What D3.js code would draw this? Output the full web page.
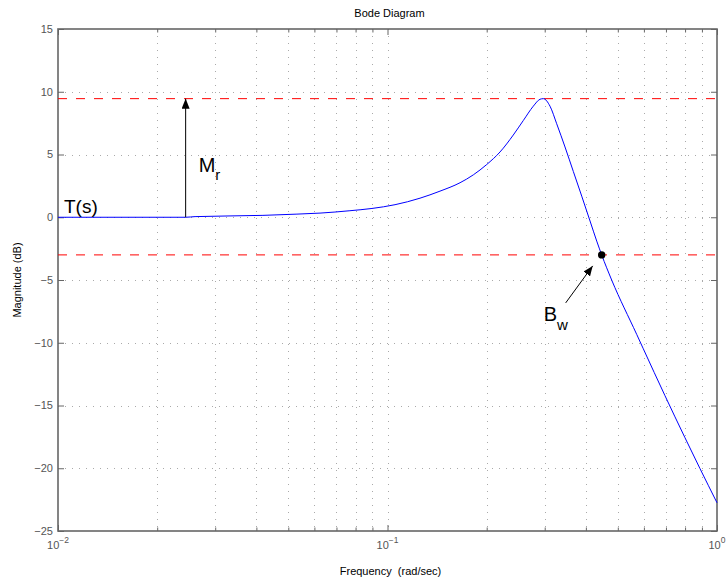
<!DOCTYPE html>
<html>
<head>
<meta charset="utf-8">
<script src="https://cdn.jsdelivr.net/npm/d3@7"></script>
<style>
  html, body { margin: 0; padding: 0; background: #fff; }
  svg { display: block; font-family: "Liberation Sans", Arial, Helvetica, sans-serif; }
</style>
</head>
<body>
<svg id="chart" width="726" height="583"></svg>
<script>
// ---- data ----
const freq = [0.01, 0.0244, 0.02606, 0.04188, 0.0531, 0.0624, 0.0769, 0.0897, 0.1054, 0.1255, 0.1443, 0.166, 0.1822, 0.2, 0.2195, 0.2408, 0.2582, 0.277, 0.2903, 0.2971, 0.3113, 0.3262, 0.3457, 0.3664, 0.3886, 0.4118, 0.4315, 0.4467, 0.479, 0.5705, 0.5975, 0.6953, 0.7996, 0.888, 1.0];
const magDb = [0, 0, 0.05, 0.15, 0.25, 0.33, 0.52, 0.7, 1.0, 1.52, 2.08, 2.75, 3.38, 4.2, 5.2, 6.55, 7.7, 8.85, 9.4, 9.45, 8.85, 7.45, 5.6, 3.65, 1.68, -0.3, -1.9, -3.0, -5.0, -9.33, -10.48, -14.22, -17.57, -20.03, -22.75];
const yTicks = [-25, -20, -15, -10, -5, 0, 5, 10, 15];
const xTickExps = [-2, -1, 0];
const resonancePeakDb = 9.45;     // M_r level
const bandwidthDb = -3;           // -3 dB level
const bandwidthFreq = 0.4467;     // B_w point
const mrArrowFreq = 0.0244;       // where the M_r arrow stands

// ---- layout ----
const L = 58, R = 717, T = 29, B = 531;
const svg = d3.select("#chart");
const x = d3.scaleLog().domain([0.01, 1]).range([L, R]);
const y = d3.scaleLinear().domain([-25, 15]).range([B, T]);
const axisColor = "#666";

// minor frequency values
const minorFreq = [];
for (let e = -2; e < 0; e++) for (let m = 2; m <= 9; m++) minorFreq.push(m * Math.pow(10, e));
const majorFreq = xTickExps.map(e => Math.pow(10, e));

// ---- grid ----
const grid = svg.append("g").attr("stroke", "#aaa").attr("stroke-width", 1).attr("stroke-dasharray", "1,6");
grid.selectAll("line.vx").data(majorFreq.concat(minorFreq).filter(f => f > 0.01 && f < 1)).join("line")
  .attr("x1", d => Math.round(x(d)) + 0.5).attr("x2", d => Math.round(x(d)) + 0.5)
  .attr("y1", T).attr("y2", B);
grid.selectAll("line.hy").data(yTicks.filter(v => v > -25 && v < 15)).join("line")
  .attr("y1", d => Math.round(y(d)) + 0.5).attr("y2", d => Math.round(y(d)) + 0.5)
  .attr("x1", L).attr("x2", R);

// ---- axes (inward ticks, box) ----
const tickFmtNone = () => "";
svg.append("g").attr("transform", `translate(0,${B})`)
  .call(d3.axisBottom(x).tickValues(majorFreq).tickSizeInner(-6).tickSizeOuter(0).tickFormat(tickFmtNone));
svg.append("g").attr("transform", `translate(0,${B})`)
  .call(d3.axisBottom(x).tickValues(minorFreq).tickSizeInner(-3.5).tickSizeOuter(0).tickFormat(tickFmtNone));
svg.append("g").attr("transform", `translate(0,${T})`)
  .call(d3.axisTop(x).tickValues(majorFreq).tickSizeInner(-6).tickSizeOuter(0).tickFormat(tickFmtNone));
svg.append("g").attr("transform", `translate(0,${T})`)
  .call(d3.axisTop(x).tickValues(minorFreq).tickSizeInner(-3.5).tickSizeOuter(0).tickFormat(tickFmtNone));
svg.append("g").attr("transform", `translate(${L},0)`)
  .call(d3.axisLeft(y).tickValues(yTicks).tickSizeInner(-6).tickSizeOuter(0).tickFormat(tickFmtNone));
svg.append("g").attr("transform", `translate(${R},0)`)
  .call(d3.axisRight(y).tickValues(yTicks).tickSizeInner(-6).tickSizeOuter(0).tickFormat(tickFmtNone));
svg.selectAll(".domain").remove();
svg.selectAll(".tick line").attr("stroke", axisColor).attr("stroke-width", 1);

svg.append("rect").attr("x", L).attr("y", T).attr("width", R - L).attr("height", B - T)
  .attr("fill", "none").attr("stroke", axisColor).attr("stroke-width", 1.6);

// y tick labels
svg.append("g").selectAll("text").data(yTicks).join("text")
  .attr("x", L - 5).attr("y", d => y(d)).attr("dy", "0.35em")
  .attr("text-anchor", "end").attr("font-size", 11).attr("fill", "#555")
  .text(d => d < 0 ? "\u2212" + Math.abs(d) : d);

// x tick labels 10^e
const xl = svg.append("g").selectAll("text").data(xTickExps).join("text")
  .attr("x", d => x(Math.pow(10, d))).attr("y", B + 18)
  .attr("text-anchor", "middle").attr("font-size", 11).attr("fill", "#555");
xl.append("tspan").text("10");
xl.append("tspan").attr("dy", -6).attr("font-size", 8.5).text(d => d < 0 ? "\u2212" + Math.abs(d) : d);

// titles
svg.append("text").attr("x", (L + R) / 2 + 2).attr("y", 17).attr("text-anchor", "middle")
  .attr("font-size", 11).attr("fill", "#000").text("Bode Diagram");
svg.append("text").attr("x", (L + R) / 2 + 3).attr("y", 575).attr("text-anchor", "middle")
  .attr("font-size", 11).attr("fill", "#000").attr("xml:space", "preserve").text("Frequency  (rad/sec)");
svg.append("text").attr("transform", `translate(21,${(T + B) / 2}) rotate(-90)`).attr("text-anchor", "middle")
  .attr("font-size", 11).attr("fill", "#000").text("Magnitude (dB)");

// ---- reference lines ----
svg.append("g").selectAll("line").data([resonancePeakDb, bandwidthDb]).join("line")
  .attr("x1", L).attr("x2", R).attr("y1", d => y(d)).attr("y2", d => y(d))
  .attr("stroke", "#ff0000").attr("stroke-width", 1).attr("stroke-dasharray", "9,9");

// ---- curve ----
const pts = freq.map((f, i) => [f, magDb[i]]);
svg.append("path").datum(pts)
  .attr("fill", "none").attr("stroke", "#0000ff").attr("stroke-width", 1)
  .attr("d", d3.line().x(d => x(d[0])).y(d => y(d[1])).curve(d3.curveMonotoneX));

// ---- annotations ----
const defs = svg.append("defs");
defs.append("marker").attr("id", "ah").attr("viewBox", "0 0 10 8").attr("refX", 10).attr("refY", 4)
  .attr("markerWidth", 10).attr("markerHeight", 8).attr("markerUnits", "userSpaceOnUse").attr("orient", "auto")
  .append("path").attr("d", "M0,0 L10,4 L0,8 Z").attr("fill", "#000");

// M_r arrow
svg.append("line").attr("x1", x(mrArrowFreq)).attr("x2", x(mrArrowFreq))
  .attr("y1", y(0)).attr("y2", y(resonancePeakDb))
  .attr("stroke", "#000").attr("stroke-width", 1).attr("marker-end", "url(#ah)");
const mr = svg.append("text").attr("x", x(mrArrowFreq) + 13).attr("y", 172).attr("font-size", 20).attr("fill", "#000");
mr.append("tspan").text("M");
mr.append("tspan").attr("dy", 8).attr("font-size", 15).text("r");

// T(s)
svg.append("text").attr("x", 64).attr("y", 213).attr("font-size", 19).attr("fill", "#000").text("T(s)");

// B_w point and arrow
const bx = x(bandwidthFreq), by = y(bandwidthDb);
svg.append("line").attr("x1", bx - 36).attr("y1", by + 48).attr("x2", bx - 9).attr("y2", by + 11)
  .attr("stroke", "#000").attr("stroke-width", 1).attr("marker-end", "url(#ah)");
svg.append("circle").attr("cx", bx).attr("cy", by).attr("r", 3.7).attr("fill", "#000");
const bw = svg.append("text").attr("x", bx - 58).attr("y", by + 66).attr("font-size", 20).attr("fill", "#000");
bw.append("tspan").text("B");
bw.append("tspan").attr("dy", 9).attr("font-size", 15).text("w");
</script>
</body>
</html>
